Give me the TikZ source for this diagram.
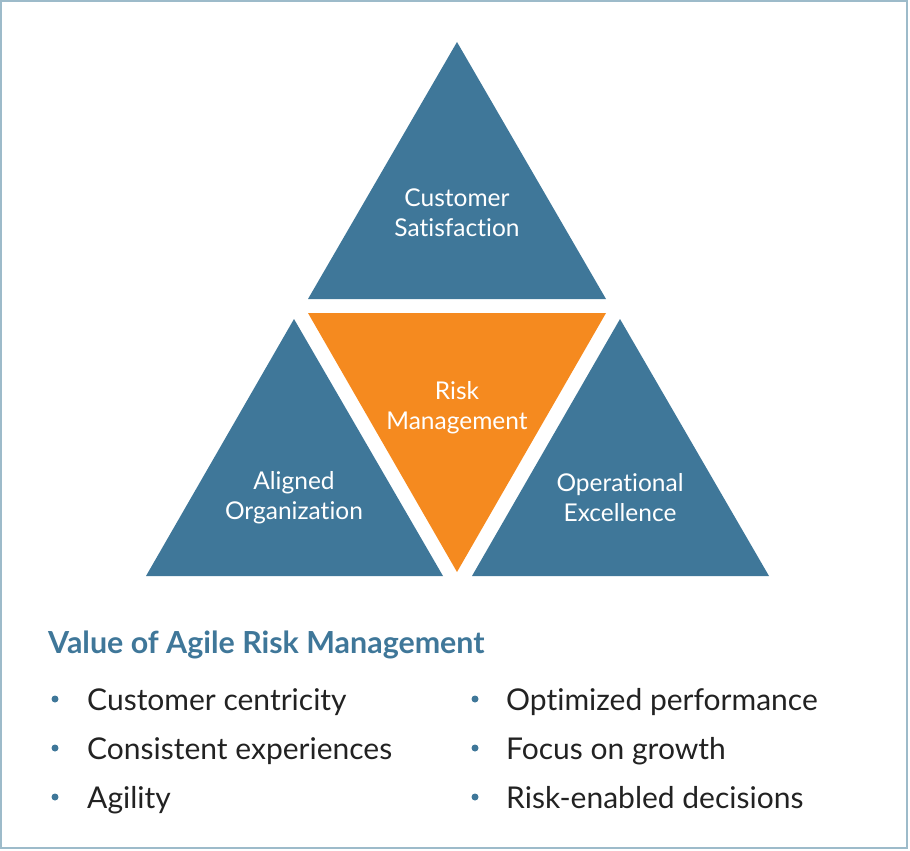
\documentclass[tikz,border=0pt]{standalone}
\usepackage{fontspec}
\setmainfont{Lato}[Ligatures=NoCommon]
\usepackage{xcolor}
\definecolor{riskblue}{HTML}{3F7799}
\definecolor{riskorange}{HTML}{F58A1F}
\definecolor{frameblue}{HTML}{9DBBCA}
\definecolor{bodytext}{HTML}{222222}

\tikzset{
  tri/.style={fill=riskblue, draw=none},
  trilabel/.style={text=white, align=center, font=\fontsize{24.5}{30}\selectfont},
  itemtext/.style={anchor=base west, text=bodytext, inner sep=0pt, font=\fontsize{30}{36}\selectfont},
  dot/.style={circle, fill=riskblue, minimum size=7pt, inner sep=0pt}
}

\begin{document}
\begin{tikzpicture}[x=1pt,y=-1pt]
\useasboundingbox (0,0) rectangle (910,851);
\draw[frameblue, line width=1.5pt] (1,1) rectangle (907,848);

% triangles
\fill[tri] (457,42) -- (606,299) -- (308,299) -- cycle;
\fill[riskorange] (308,313) -- (606,313) -- (457,572) -- cycle;
\fill[tri] (294,319) -- (443,576) -- (146,576) -- cycle;
\fill[tri] (620,319) -- (769,576) -- (472,576) -- cycle;

\node[trilabel] (cust) at (457,213) {Customer\\Satisfaction};
\node[trilabel] (risk) at (457,408) {Risk\\Management};
\node[trilabel] (align) at (294,498) {Aligned\\Organization};
\node[trilabel] (oper) at (620,498) {Operational\\Excellence};

% list
\node[anchor=base west, inner sep=0pt, text=riskblue, font=\fontsize{30.4}{36}\selectfont\bfseries] (title) at (48,653) {Value of Agile Risk Management};

\node[dot] (d1) at (55,699) {};
\node[dot] (d2) at (55,748) {};
\node[dot] (d3) at (55,797) {};
\node[dot] (d4) at (475,699) {};
\node[dot] (d5) at (475,748) {};
\node[dot] (d6) at (475,797) {};

\node[itemtext] (i1) at (87,710) {Customer centricity};
\node[itemtext] (i2) at (87,759) {Consistent experiences};
\node[itemtext] (i3) at (87,808) {Agility};
\node[itemtext] (i4) at (506,710) {Optimized performance};
\node[itemtext] (i5) at (506,759) {Focus on growth};
\node[itemtext] (i6) at (506,808) {Risk-enabled decisions};
\end{tikzpicture}
\end{document}
